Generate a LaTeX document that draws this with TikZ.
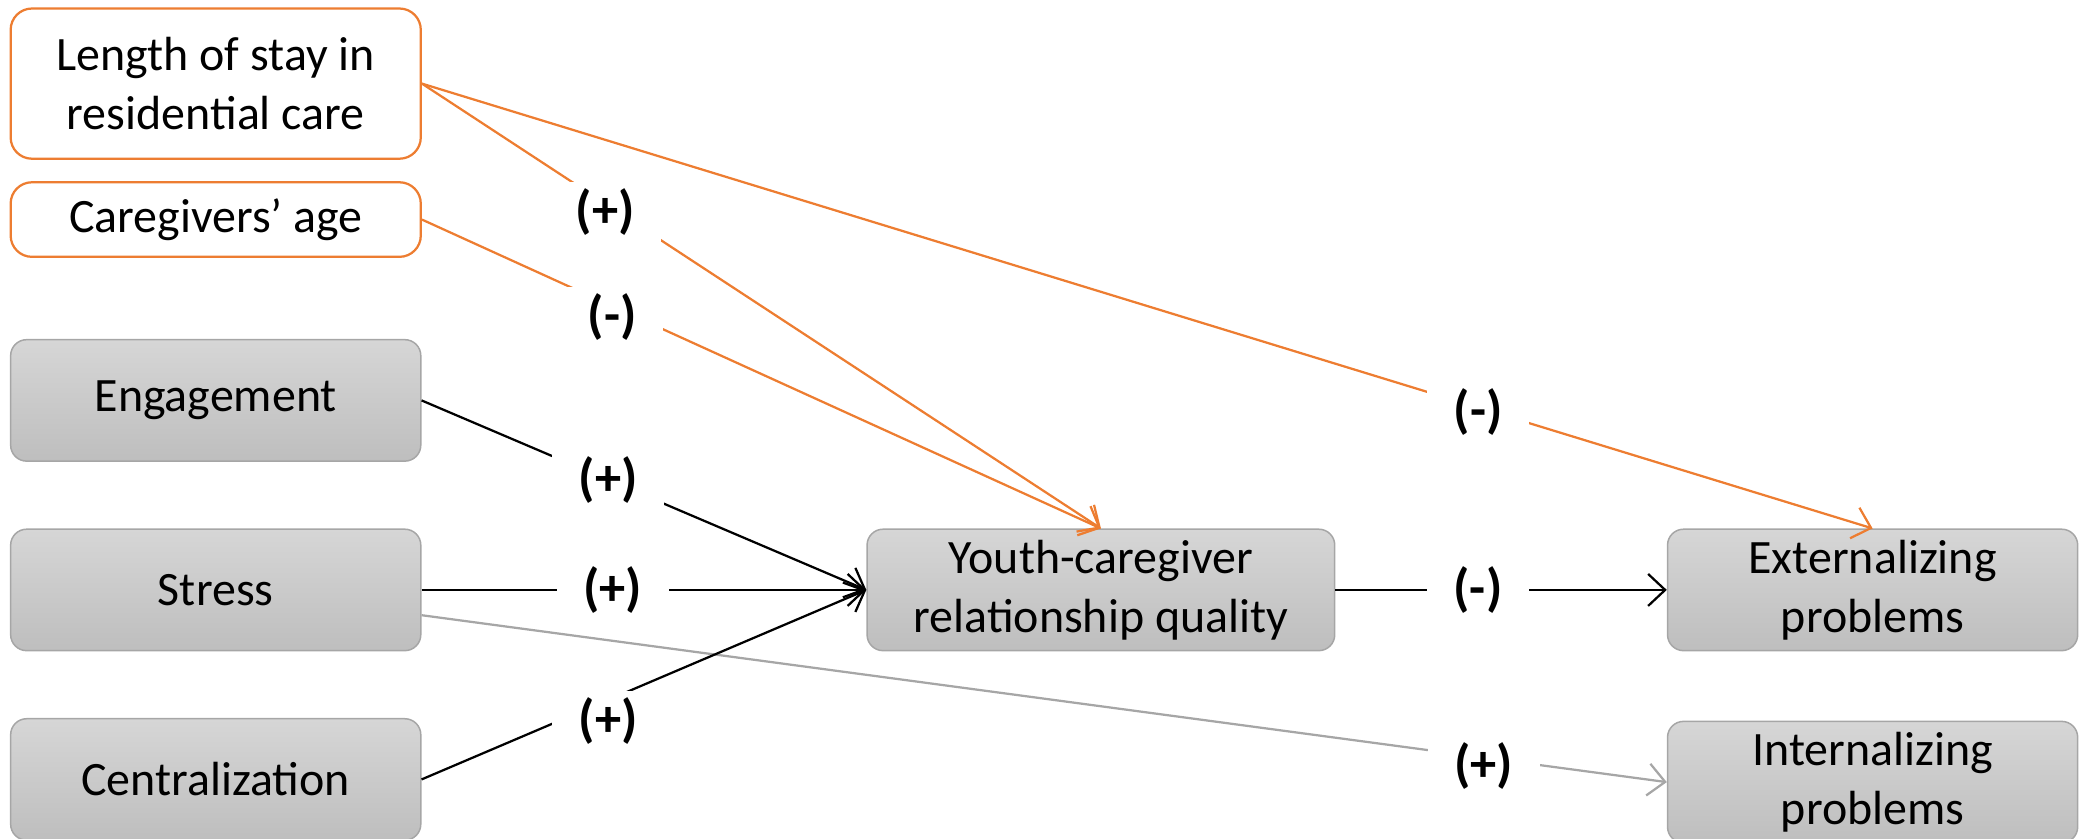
\documentclass[tikz,border=0pt]{standalone}
\usepackage{fontspec}
\setmainfont{Carlito}
\usetikzlibrary{arrows.meta,positioning}
\definecolor{orangeline}{HTML}{ED7D31}
\definecolor{grayline}{HTML}{A6A6A6}
\definecolor{boxtop}{HTML}{D6D6D6}
\definecolor{boxbottom}{HTML}{BEBEBE}

\begin{document}
\begin{tikzpicture}[>={Straight Barb[length=1.6mm,width=3mm]},line width=0.6pt,font={\fontsize{12.8}{15.8}\selectfont},node distance=0.625cm,
graybox/.style={rectangle,rounded corners=0.15cm,draw=grayline,line width=0.4pt,top color=boxtop,bottom color=boxbottom,minimum width=3.85cm,minimum height=1.14cm,align=center,inner sep=2pt},
orangebox/.style={rectangle,rounded corners=0.2cm,draw=orangeline,fill=white,minimum width=3.85cm,align=center,inner sep=2pt},
sign/.style={fill=white,text=black,inner xsep=0.25cm,inner ysep=0.06cm,font={\fontsize{14}{16}\selectfont\bfseries}}]
\useasboundingbox (0,0) rectangle (19.6,-7.875);

% predictors
\node[graybox] (stress) at (2.025,-5.5375) {Stress};
\node[graybox,above=of stress] (engagement) {Engagement};
\node[graybox,below=of stress] (centralization) {Centralization};
\node[orangebox,minimum height=0.7cm,above=0.76cm of engagement] (age) {Caregivers’ age};
\node[orangebox,minimum height=1.41cm,above=0.2cm of age] (length) {Length of stay in\\residential care};

% mediator and outcomes
\node[graybox,minimum width=4.39cm,right=4.175cm of stress] (youth) {Youth-caregiver\\relationship quality};
\node[graybox,right=3.11cm of youth] (external) {Externalizing\\problems};
\node[graybox,below=0.65cm of external] (internal) {Internalizing\\problems};

%%%%%
\draw[grayline,->] (stress.-7) -- node[sign,pos=0.853,yshift=-0.08cm] {(+)} (internal.west);

\draw[->] (engagement.east) -- node[sign,pos=0.42] {(+)} (youth.west);
\draw[->] (stress.east) -- node[sign,pos=0.43] {(+)} (youth.west);
\draw[->] (centralization.east) -- node[sign,pos=0.42,yshift=-0.2cm] {(+)} (youth.west);

\draw[orangeline,->] (length.east) -- node[sign,pos=0.27,yshift=-0.08cm] {(+)} (youth.north);
\draw[orangeline,->] (age.east) -- node[sign,pos=0.28,yshift=-0.1cm] {(-)} (youth.north);
\draw[orangeline,->] (length.east) -- node[sign,pos=0.728,yshift=-0.04cm] {(-)} (external.north);

\draw[->] (youth.east) -- node[sign,pos=0.43] {(-)} (external.west);

\end{tikzpicture}
\end{document}
